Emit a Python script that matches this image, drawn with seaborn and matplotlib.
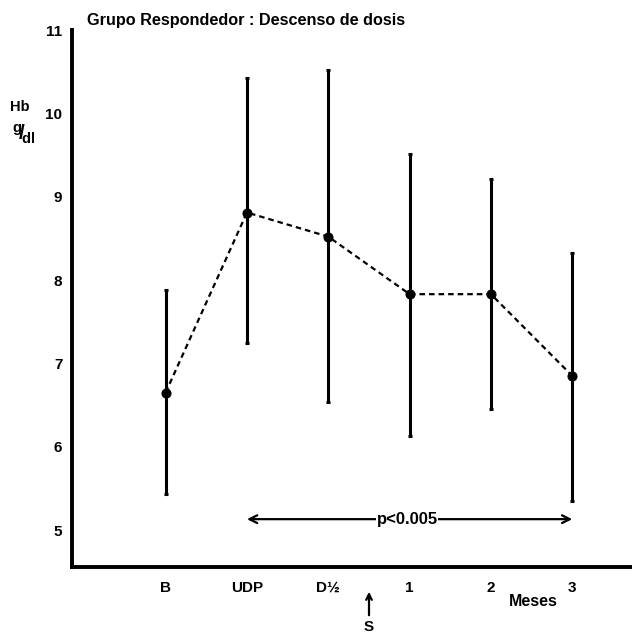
import matplotlib
matplotlib.use("Agg")
import matplotlib.pyplot as plt
import seaborn as sns
import pandas as pd
import numpy as np

# ---- data ----
categories = ["B", "UDP", "D½", "1", "2", "3"]
means = [6.65, 8.81, 8.52, 7.83, 7.83, 6.85]
upper = [7.88, 10.42, 10.52, 9.51, 9.21, 8.32]
lower = [5.43, 7.24, 6.54, 6.13, 6.45, 5.35]
y_ticks = [5, 6, 7, 8, 9, 10, 11]
title = "Grupo Respondedor : Descenso de dosis"
p_text = "p<0.005"

sns.set_theme(style="white")
plt.rcParams["font.family"] = ["Liberation Sans", "DejaVu Sans"]
plt.rcParams["font.weight"] = "bold"
plt.rcParams["mathtext.fontset"] = "custom"
plt.rcParams["mathtext.rm"] = "Liberation Sans:bold"
plt.rcParams["mathtext.it"] = "Liberation Sans:bold"
plt.rcParams["mathtext.bf"] = "Liberation Sans:bold"
for k in ["text.color", "axes.labelcolor", "xtick.color", "ytick.color"]:
    plt.rcParams[k] = "black"

df = pd.DataFrame({"pos": np.arange(len(categories)), "cat": categories,
                   "mean": means, "lo": lower, "hi": upper})

fig = plt.figure(figsize=(6.32, 6.33), dpi=100)
W, H = 632, 633
ax = fig.add_axes([72 / W, (H - 567) / H, 560 / W, 537 / H])

# error bars
ax.vlines(df["pos"], df["lo"], df["hi"], color="black", linewidth=2.2, zorder=2)
ax.hlines(df["hi"], df["pos"] - 0.025, df["pos"] + 0.025, color="black", linewidth=2.2, zorder=2)
ax.hlines(df["lo"], df["pos"] - 0.025, df["pos"] + 0.025, color="black", linewidth=2.2, zorder=2)

# mean line
sns.lineplot(data=df, x="pos", y="mean", ax=ax, color="black", linewidth=1.6,
             linestyle=(0, (2.5, 1.8)), marker="o", markersize=6.5,
             markeredgecolor="black", markerfacecolor="black", zorder=3)

ax.set_xlim(-1.152, 5.735)
ax.set_ylim(4.556, 11)
ax.set_yticks(y_ticks)
ax.set_yticklabels([str(t) for t in y_ticks], fontsize=11, fontweight="bold")
ax.set_xticks(df["pos"])
ax.set_xticklabels(categories, fontsize=11, fontweight="bold")
ax.set_xlabel("")
ax.set_ylabel("")
for s in ["top", "right"]:
    ax.spines[s].set_visible(False)
for s in ["left", "bottom"]:
    ax.spines[s].set_linewidth(2.8)
    ax.spines[s].set_color("black")
ax.tick_params(axis="both", direction="out", length=4, width=1.5, colors="black", pad=3)
ax.tick_params(axis="x", pad=6)

# p-value arrow
ax.annotate("", xy=(df["pos"][1], 5.13), xytext=(df["pos"][5], 5.13),
            arrowprops=dict(arrowstyle="<->", color="black", lw=1.6,
                            mutation_scale=14, shrinkA=0, shrinkB=0))
ax.text(2.97, 5.13, p_text, ha="center", va="center", fontsize=12, fontweight="bold",
        bbox=dict(facecolor="white", edgecolor="none", pad=0.3))

# texts in figure pixel coords
fig.text(87 / W, 1 - 20 / H, title, ha="left", va="center", fontsize=11.7, fontweight="bold")
fig.text(20 / W, 1 - 107 / H, "Hb", ha="center", va="center", fontsize=10.5, fontweight="bold")
fig.text(24 / W, 1 - 134 / H, r"$\mathrm{^{g}\!/\!_{dl}}$", ha="center", va="center",
         fontsize=15)
fig.text(533 / W, 1 - 601 / H, "Meses", ha="center", va="center", fontsize=11.5, fontweight="bold")

# S arrow
fig.patches.append(matplotlib.patches.FancyArrowPatch(
    (369 / W, 1 - 618 / H), (369 / W, 1 - 589 / H), transform=fig.transFigure,
    arrowstyle="->", mutation_scale=10, color="black", lw=1.6))
fig.text(369 / W, 1 - 627 / H, "S", ha="center", va="center", fontsize=11, fontweight="bold")

fig.savefig("out.png", dpi=100)
